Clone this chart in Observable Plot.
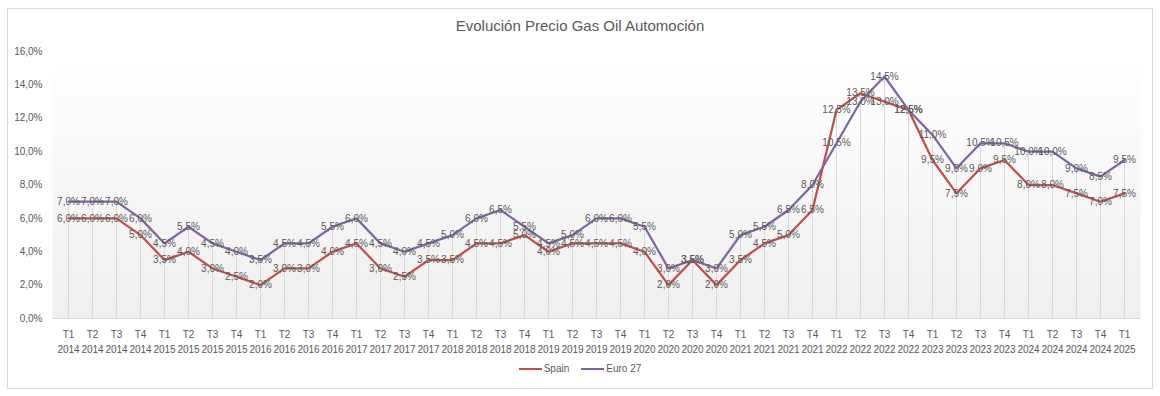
<!DOCTYPE html>
<html><head><meta charset="utf-8">
<script src="https://cdn.jsdelivr.net/npm/d3@7"></script>
<script src="https://cdn.jsdelivr.net/npm/@observablehq/plot@0.6"></script>
<style>
body{margin:0;background:#fff;font-family:"Liberation Sans",Arial,sans-serif;}
#wrap{position:relative;width:1160px;height:396px;overflow:hidden;}
#box{position:absolute;left:7px;top:8px;width:1144px;height:379px;border:1px solid #d9d9d9;}
#title{position:absolute;left:0;width:1160px;top:17px;text-align:center;font-size:15px;color:#595959;}
#chart{position:absolute;left:0;top:40px;}
#legend{position:absolute;top:363px;left:0;width:1160px;text-align:center;font-size:10px;color:#595959;}
#legend span.item{display:inline-block;margin:0 6px;}
#legend span.sw{display:inline-block;width:23px;height:2px;vertical-align:middle;margin-right:2px;}
</style>
</head><body>
<div id="wrap">
  <div id="box"></div>
  <div id="title">Evolución Precio Gas Oil Automoción</div>
  <div id="chart"></div>
  <div id="legend"></div>
</div>
<script>
const quarters = ["T1","T2","T3","T4"];
const years = [2014,2015,2016,2017,2018,2019,2020,2021,2022,2023,2024,2025];
const categories = [];
for (const y of years) for (const q of quarters) { if (y === 2025 && q !== "T1") continue; categories.push(q + "\n" + y); }

const spain = [
  6.0, 6.0, 6.0, 5.0,
  3.5, 4.0, 3.0, 2.5,
  2.0, 3.0, 3.0, 4.0,
  4.5, 3.0, 2.5, 3.5,
  3.5, 4.5, 4.5, 5.0,
  4.0, 4.5, 4.5, 4.5,
  4.0, 2.0, 3.5, 2.0,
  3.5, 4.5, 5.0, 6.5,
  12.5, 13.5, 13.0, 12.5,
  9.5, 7.5, 9.0, 9.5,
  8.0, 8.0, 7.5, 7.0,
  7.5
];
const euro27 = [
  7.0, 7.0, 7.0, 6.0,
  4.5, 5.5, 4.5, 4.0,
  3.5, 4.5, 4.5, 5.5,
  6.0, 4.5, 4.0, 4.5,
  5.0, 6.0, 6.5, 5.5,
  4.5, 5.0, 6.0, 6.0,
  5.5, 3.0, 3.5, 3.0,
  5.0, 5.5, 6.5, 8.0,
  10.5, 13.0, 14.5, 12.5,
  11.0, 9.0, 10.5, 10.5,
  10.0, 10.0, 9.0, 8.5,
  9.5
];
const seriesNames = ["Spain", "Euro 27"];
const seriesColors = ["#C0504D", "#8064A2"];
const yTicks = [0,2,4,6,8,10,12,14,16];

const rows = [];
categories.forEach((c, i) => {
  rows.push({cat: c, series: "Spain", v: spain[i]});
  rows.push({cat: c, series: "Euro 27", v: euro27[i]});
});
const drops = categories.map((c, i) => ({cat: c, top: Math.max(spain[i], euro27[i])}));
const fmt = d => d.toFixed(1).replace(".", ",") + "%";

const chart = Plot.plot({
  width: 1160,
  height: 320,
  marginTop: 11,
  marginBottom: 42,
  marginLeft: 52,
  marginRight: 20,
  style: {fontFamily: '"Liberation Sans", Arial, sans-serif', fontSize: "10px", background: "transparent"},
  x: {type: "point", domain: categories, padding: 0.5},
  y: {domain: [0, 16]},
  color: {domain: seriesNames, range: seriesColors},
  marks: [
    Plot.frame({fill: "url(#bgGrad)", stroke: "none"}),
    Plot.ruleX(drops, {x: "cat", y1: 0, y2: "top", stroke: "#d9d9d9", strokeWidth: 1}),
    Plot.ruleY([0], {stroke: "#d9d9d9"}),
    Plot.axisY({ticks: yTicks, tickFormat: fmt, tickSize: 0, tickPadding: 10, fill: "#595959", label: null}),
    Plot.axisX({tickSize: 0, tickPadding: 9, fill: "#595959", label: null, lineHeight: 1.5}),
    Plot.line(rows, {x: "cat", y: "v", z: "series", stroke: "series", strokeWidth: 2.25, strokeLinejoin: "round"}),
    Plot.text(rows, {x: "cat", y: "v", text: d => fmt(d.v), fill: "#595959", fontSize: 10})
  ]
});
d3.select(chart).insert("defs", ":first-child").html(
  '<linearGradient id="bgGrad" x1="0" y1="0" x2="0" y2="1"><stop offset="0" stop-color="#ffffff"/><stop offset="1" stop-color="#efefef"/></linearGradient>'
);
document.getElementById("chart").appendChild(chart);

const legend = document.getElementById("legend");
seriesNames.forEach((n, i) => {
  const item = document.createElement("span");
  item.className = "item";
  const sw = document.createElement("span");
  sw.className = "sw";
  sw.style.background = seriesColors[i];
  item.appendChild(sw);
  item.appendChild(document.createTextNode(n));
  legend.appendChild(item);
});
</script>
</body></html>
